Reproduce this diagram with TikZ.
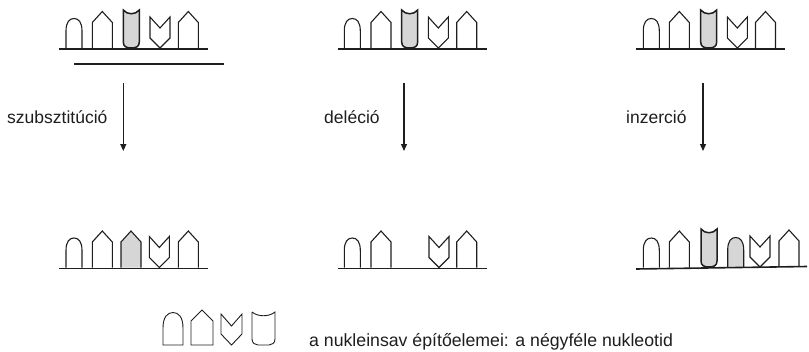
\documentclass[tikz,border=0pt]{standalone}
\usepackage{fontspec}
\setmainfont{Liberation Sans}
\usetikzlibrary{arrows.meta}
\definecolor{shade}{RGB}{214,214,214}
\definecolor{ink}{RGB}{30,30,30}
\tikzset{
  shp/.style={draw=ink,line width=1.1pt,line join=miter},
  base/.style={draw=ink,line width=1.6pt},
  arr/.style={draw=ink,line width=1.3pt,-{Triangle[length=7pt,width=6pt]}},
  lbl/.style={inner sep=0pt,font=\fontsize{17.5}{20}\selectfont,text=ink},
  leg/.style={inner sep=0pt,font=\fontsize{17.7}{20}\selectfont,text=ink},
  pics/archp/.style={code={\path[shp,#1] (0,0) -- (0,-17) .. controls (0,-26) and (3.5,-29.5) .. (8,-29.5) .. controls (12.5,-29.5) and (16,-26) .. (16,-17) -- (16,0);}},
  pics/housep/.style={code={\path[shp,#1] (0,0) -- (0,-25.5) -- (10,-36.5) -- (20,-25.5) -- (20,0);}},
  pics/cupp/.style={code={\path[shp,line width=1.5pt,#1] (0,-38) -- (0,-6) .. controls (0,-1.5) and (3,0) .. (8,0) .. controls (13,0) and (16,-1.5) .. (16,-6) -- (16,-38) .. controls (12,-33) and (4,-33) .. (0,-38) -- cycle;}},
  pics/veep/.style={code={\path[shp,#1] (0,-31) -- (10,-20) -- (20,-31) -- (20,-10) -- (10,0) -- (0,-10) -- cycle;}},
  legshp/.style={draw=ink,line width=0.9pt},
}
\begin{document}
\begin{tikzpicture}[x=1pt,y=-1pt]
\useasboundingbox (0,0) rectangle (809,351);
% ---------- top left ----------
\pic at (66,48) {archp};
\pic at (92.3,48) {housep};
\pic at (123.3,48) {cupp={fill=shade}};
\pic at (150,48) {veep};
\pic at (178.3,48) {housep};
\coordinate (tl1) at (59,49); \coordinate (tl2) at (208,49);
\draw[base] (tl1) -- (tl2);
\coordinate (tl3) at (74,64); \coordinate (tl4) at (224,64);
\draw[base] (tl3) -- (tl4);
% ---------- top middle ----------
\pic at (344.3,48) {archp};
\pic at (371,48) {housep};
\pic at (401.7,48) {cupp={fill=shade}};
\pic at (428.3,48) {veep};
\pic at (456.7,48) {housep};
\coordinate (tm1) at (337.5,49); \coordinate (tm2) at (487,49);
\draw[base] (tm1) -- (tm2);
% ---------- top right ----------
\pic at (643.3,48) {archp};
\pic at (669.3,48) {housep};
\pic at (700.7,48) {cupp={fill=shade}};
\pic at (727.3,48) {veep};
\pic at (755.5,48) {housep};
\coordinate (tr1) at (636,49); \coordinate (tr2) at (785,49);
\draw[base] (tr1) -- (tr2);
% ---------- arrows and labels ----------
\coordinate (a1s) at (123.3,83); \coordinate (a1e) at (123.3,151);
\coordinate (a2s) at (404,83);   \coordinate (a2e) at (404,151);
\coordinate (a3s) at (703,83);   \coordinate (a3e) at (703,151);
\draw[arr] (a1s) -- (a1e);
\draw[arr] (a2s) -- (a2e);
\draw[arr] (a3s) -- (a3e);
\node[lbl,anchor=west] (l1) at (7,117) {szubsztitúció};
\node[lbl,anchor=west] (l2) at (324,117) {deléció};
\node[lbl,anchor=west] (l3) at (626,117) {inzerció};
% ---------- bottom left ----------
\pic at (66,267.5) {archp};
\pic at (92.3,267.5) {housep};
\pic at (121,267.5) {housep={fill=shade}};
\pic at (149.3,267.5) {veep};
\pic at (178.3,267.5) {housep};
\coordinate (bl1) at (59,268.5); \coordinate (bl2) at (208,268.5);
\draw[base] (bl1) -- (bl2);
% ---------- bottom middle ----------
\pic at (344.3,267.5) {archp};
\pic at (371,267.5) {housep};
\pic at (429,267.5) {veep};
\pic at (456.7,267.5) {housep};
\coordinate (bm1) at (338,268.5); \coordinate (bm2) at (487,268.5);
\draw[base] (bm1) -- (bm2);
% ---------- bottom right ----------
\pic at (643.3,267.5) {archp};
\pic at (669.3,267.5) {housep};
\pic at (701,267) {cupp={fill=shade}};
\pic at (727.7,267) {archp={fill=shade}};
\pic at (750,267) {veep};
\pic at (779,266.5) {housep};
\coordinate (br1) at (636,269); \coordinate (br2) at (807,266.5);
\draw[base] (br1) -- (br2);
% ---------- legend ----------
\draw[legshp] (163,345) -- (163,328) .. controls (163,317) and (167.5,312.5) .. (173,312.5) .. controls (178.5,312.5) and (183,317) .. (183,328) -- (183,345) -- cycle;
\draw[legshp] (191,345) -- (191,321) -- (202,310) -- (213,321) -- (213,345) -- cycle;
\draw[legshp] (221,314) -- (231.5,326) -- (242,314) -- (242,334) -- (231.5,345) -- (221,334) -- cycle;
\draw[legshp] (252,312) -- (252,339) .. controls (252,343) and (255,345) .. (258,345) -- (269,345) .. controls (272,345) and (275,343) .. (275,339) -- (275,312) .. controls (269,317) and (258,317) .. (252,312);
\node[leg,anchor=base west] (lg) at (309,346.5) {a nukleinsav építőelemei: a négyféle nukleotid};
\end{tikzpicture}
\end{document}
